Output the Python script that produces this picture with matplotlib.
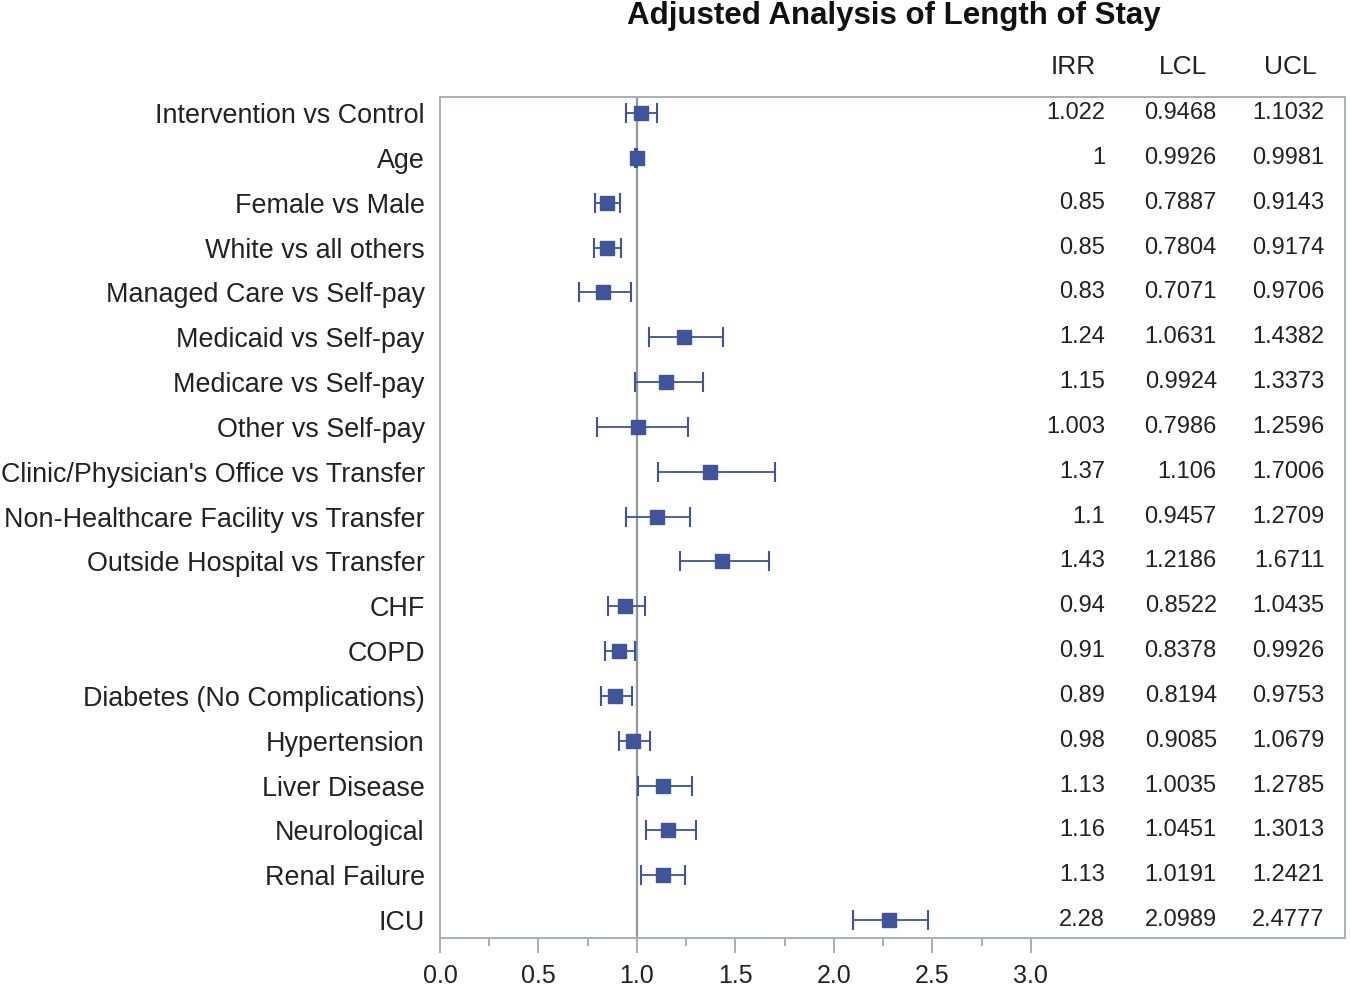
import matplotlib
matplotlib.use('Agg')
import matplotlib.pyplot as plt
from matplotlib.ticker import FixedLocator

plt.rcParams['font.family'] = ['Liberation Sans', 'DejaVu Sans']

labels = ['Intervention vs Control', 'Age', 'Female vs Male', 'White vs all others',
          'Managed Care vs Self-pay', 'Medicaid vs Self-pay', 'Medicare vs Self-pay',
          'Other vs Self-pay', "Clinic/Physician's Office vs Transfer",
          'Non-Healthcare Facility vs Transfer', 'Outside Hospital vs Transfer',
          'CHF', 'COPD', 'Diabetes (No Complications)', 'Hypertension',
          'Liver Disease', 'Neurological', 'Renal Failure', 'ICU']
irr = [1.022, 1, 0.85, 0.85, 0.83, 1.24, 1.15, 1.003, 1.37, 1.1, 1.43,
       0.94, 0.91, 0.89, 0.98, 1.13, 1.16, 1.13, 2.28]
lcl = [0.9468, 0.9926, 0.7887, 0.7804, 0.7071, 1.0631, 0.9924, 0.7986, 1.106,
       0.9457, 1.2186, 0.8522, 0.8378, 0.8194, 0.9085, 1.0035, 1.0451, 1.0191, 2.0989]
ucl = [1.1032, 0.9981, 0.9143, 0.9174, 0.9706, 1.4382, 1.3373, 1.2596, 1.7006,
       1.2709, 1.6711, 1.0435, 0.9926, 0.9753, 1.0679, 1.2785, 1.3013, 1.2421, 2.4777]
irr_txt = ['1.022', '1', '0.85', '0.85', '0.83', '1.24', '1.15', '1.003', '1.37', '1.1',
           '1.43', '0.94', '0.91', '0.89', '0.98', '1.13', '1.16', '1.13', '2.28']
lcl_txt = ['0.9468', '0.9926', '0.7887', '0.7804', '0.7071', '1.0631', '0.9924', '0.7986',
           '1.106', '0.9457', '1.2186', '0.8522', '0.8378', '0.8194', '0.9085', '1.0035',
           '1.0451', '1.0191', '2.0989']
ucl_txt = ['1.1032', '0.9981', '0.9143', '0.9174', '0.9706', '1.4382', '1.3373', '1.2596',
           '1.7006', '1.2709', '1.6711', '1.0435', '0.9926', '0.9753', '1.0679', '1.2785',
           '1.3013', '1.2421', '2.4777']

blue = '#3f5499'
grey = '#9aa4a4'

fig = plt.figure(figsize=(13.5, 9.86), dpi=100)
ax = fig.add_axes([0.3259, 0.0487, 0.6704, 0.8529])

ys = list(range(len(labels)))

# reference line at IRR = 1
ax.axvline(1.0, color='#8c9a9a', lw=1.6, zorder=1)

# confidence intervals with caps, then point estimates
ax.hlines(ys, lcl, ucl, color=blue, lw=1.3, zorder=2)
ax.plot(lcl, ys, ls='none', marker='|', ms=15, mew=1.5, color=blue, zorder=2)
ax.plot(ucl, ys, ls='none', marker='|', ms=15, mew=1.5, color=blue, zorder=2)
ax.plot(irr, ys, ls='none', marker='s', ms=10, color=blue, zorder=3)

ax.set_xlim(0, 4.595)
ax.set_ylim(18.4, -0.36)
ax.xaxis.set_major_locator(FixedLocator([0, 0.5, 1, 1.5, 2, 2.5, 3]))
ax.xaxis.set_minor_locator(FixedLocator([0.25, 0.75, 1.25, 1.75, 2.25, 2.75]))
ax.set_xticklabels(['0.0', '0.5', '1.0', '1.5', '2.0', '2.5', '3.0'])
ax.tick_params(axis='x', which='major', length=11, width=1.2, color=grey,
               labelsize=18, labelcolor='#222222', pad=8)
ax.tick_params(axis='x', which='minor', length=6, width=1.2, color=grey)

ax.set_yticks(ys)
ax.set_yticklabels(labels)
ax.tick_params(axis='y', length=0, labelsize=19.4, labelcolor='#222222', pad=11)

for s in ax.spines.values():
    s.set_color('#a8b0b0')
    s.set_linewidth(1.4)

# statistics table inside the plot area
cols = [(irr_txt, 'IRR', 3.376, 3.216), (lcl_txt, 'LCL', 3.944, 3.770),
        (ucl_txt, 'UCL', 4.492, 4.319)]
for vals, head, xr, xc in cols:
    for y, v in zip(ys, vals):
        ax.text(xr, y, v, ha='right', va='center', fontsize=17, color='#222222')
    ax.text(xc, -1.03, head, ha='center', va='center', fontsize=19,
            color='#222222', clip_on=False)

fig.text(0.662, 0.984, 'Adjusted Analysis of Length of Stay', ha='center', va='center',
         fontsize=22.5, fontweight='bold', color='#111111')

fig.savefig('out.png', dpi=100)
